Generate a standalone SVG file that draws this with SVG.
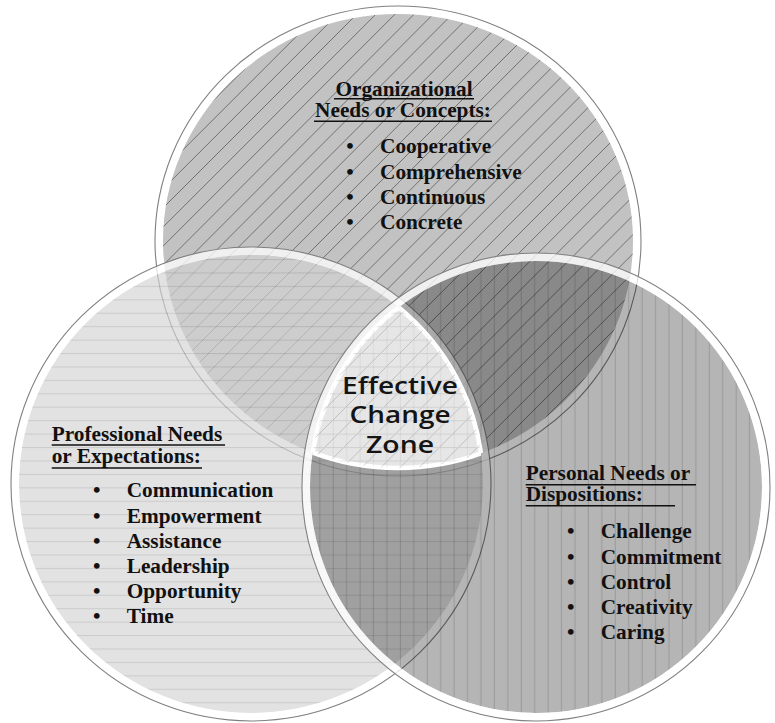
<svg xmlns="http://www.w3.org/2000/svg" width="775" height="723" viewBox="0 0 775 723">
  <style>
    .lbl { font-family: "Liberation Serif", "Times New Roman", serif; font-weight: bold; font-size: 21.3px; fill: #111; }
    .bul { text-anchor: middle; }
    .ul { stroke: #111; stroke-width: 1.6; }
    .zone { font-family: "Open Sans", "Noto Sans", sans-serif; font-weight: 600; font-size: 22.5px; fill: #141414; text-anchor: middle; }
    .band { fill: none; stroke: #fff; stroke-width: 8; stroke-opacity: 0.75; }
    .rim { fill: none; stroke: #808080; stroke-width: 1.1; }
    .edge { fill: none; stroke: #fff; stroke-width: 4.5; }
  </style>
  <defs>
    <!-- filled discs of the three sets -->
    <ellipse id="dTop" cx="398" cy="241" rx="235" ry="227"/>
    <ellipse id="dLeft" cx="251" cy="484" rx="232" ry="229"/>
    <ellipse id="dRight" cx="536" cy="487" rx="226" ry="226"/>
    <clipPath id="cTop"><use href="#dTop"/></clipPath>
    <clipPath id="cLeft"><use href="#dLeft"/></clipPath>
    <clipPath id="cRight"><use href="#dRight"/></clipPath>
    <!-- upward diagonal hatch lines (x + y = const) -->
    <path id="diagLines" fill="none" stroke="#000" stroke-opacity="0.42" stroke-width="1"
      d="M180 0l-700 700M199.1 0l-700 700M218.2 0l-700 700M237.3 0l-700 700M256.4 0l-700 700M275.5 0l-700 700M294.6 0l-700 700M313.7 0l-700 700M332.8 0l-700 700M351.9 0l-700 700M371 0l-700 700M390.1 0l-700 700M409.2 0l-700 700M428.3 0l-700 700M447.4 0l-700 700M466.5 0l-700 700M485.6 0l-700 700M504.7 0l-700 700M523.8 0l-700 700M542.9 0l-700 700M562 0l-700 700M581.1 0l-700 700M600.2 0l-700 700M619.3 0l-700 700M638.4 0l-700 700M657.5 0l-700 700M676.6 0l-700 700M695.7 0l-700 700M714.8 0l-700 700M733.9 0l-700 700M753 0l-700 700M772.1 0l-700 700M791.2 0l-700 700M810.3 0l-700 700M829.4 0l-700 700M848.5 0l-700 700M867.6 0l-700 700M886.7 0l-700 700M905.8 0l-700 700M924.9 0l-700 700M944 0l-700 700M963.1 0l-700 700M982.2 0l-700 700M1001.3 0l-700 700M1020.4 0l-700 700M1039.5 0l-700 700M1058.6 0l-700 700M1077.7 0l-700 700M1096.8 0l-700 700"/>
    <pattern id="pHoriz" patternUnits="userSpaceOnUse" width="13.43" height="13.43">
      <line x1="0" y1="4.4" x2="13.43" y2="4.4" stroke="#b0b0b0" stroke-width="1"/>
    </pattern>
    <pattern id="pVert" patternUnits="userSpaceOnUse" width="13.43" height="13.43">
      <line x1="10.9" y1="0" x2="10.9" y2="13.43" stroke="#000" stroke-opacity="0.15" stroke-width="1"/>
    </pattern>
  </defs>

  <rect width="775" height="723" fill="#fff"/>

  <!-- set: organizational (top) -->
  <g id="set-organizational">
    <ellipse class="band" cx="398" cy="241" rx="239" ry="231"/>
    <ellipse class="rim" cx="398" cy="241" rx="243" ry="235"/>
    <use href="#dTop" fill="#c2c2c2"/>
    <g clip-path="url(#cTop)"><use href="#diagLines"/></g>
  </g>

  <!-- set: professional (left), light translucent layer -->
  <g id="set-professional">
    <g opacity="0.66">
      <use href="#dLeft" fill="#d4d4d4"/>
      <use href="#dLeft" fill="url(#pHoriz)"/>
    </g>
    <ellipse class="band" cx="251" cy="484" rx="236" ry="233"/>
    <ellipse class="rim" cx="251" cy="484" rx="240" ry="237"/>
  </g>

  <!-- set: personal (right), dark translucent layer -->
  <g id="set-personal">
    <use href="#dRight" fill="#000" fill-opacity="0.29"/>
    <use href="#dRight" fill="url(#pVert)"/>
    <ellipse class="band" cx="536" cy="487" rx="230" ry="230"/>
    <ellipse class="rim" cx="536" cy="487" rx="234" ry="234"/>
  </g>

  <!-- central zone: intersection of all three -->
  <g id="effective-change-zone">
    <g clip-path="url(#cTop)"><g clip-path="url(#cLeft)">
      <use href="#dRight" fill="#e7e7e7"/>
    </g></g>
    <!-- white edge along each bounding arc -->
    <g clip-path="url(#cLeft)"><g clip-path="url(#cRight)"><use href="#dTop" class="edge"/></g></g>
    <g clip-path="url(#cTop)"><g clip-path="url(#cRight)"><use href="#dLeft" class="edge"/></g></g>
    <g clip-path="url(#cTop)"><g clip-path="url(#cLeft)"><use href="#dRight" class="edge"/></g></g>
    <!-- faint hatching showing through -->
    <g clip-path="url(#cTop)"><g clip-path="url(#cLeft)"><g clip-path="url(#cRight)" opacity="0.4">
      <use href="#diagLines"/>
      <rect x="0" y="0" width="775" height="723" fill="url(#pHoriz)"/>
      <rect x="0" y="0" width="775" height="723" fill="url(#pVert)"/>
    </g></g></g>
  </g>

  <!-- labels -->
  <g id="label-organizational" class="lbl">
    <text x="404" y="96" text-anchor="middle">Organizational</text>
    <text x="403" y="117" text-anchor="middle">Needs or Concepts:</text>
    <line class="ul" x1="334" y1="98.8" x2="474" y2="98.8"/>
    <line class="ul" x1="314" y1="121.3" x2="492" y2="121.3"/>
    <text class="bul" x="350" y="153.3">•</text><text x="380" y="153.3">Cooperative</text>
    <text class="bul" x="350" y="178.5">•</text><text x="380" y="178.5">Comprehensive</text>
    <text class="bul" x="350" y="203.7">•</text><text x="380" y="203.7">Continuous</text>
    <text class="bul" x="350" y="228.9">•</text><text x="380" y="228.9">Concrete</text>
  </g>

  <g id="label-professional" class="lbl">
    <text x="51.7" y="440.7">Professional Needs</text>
    <text x="51.7" y="463.3">or Expectations:</text>
    <line class="ul" x1="51.7" y1="445" x2="225" y2="445"/>
    <line class="ul" x1="51.7" y1="468" x2="202" y2="468"/>
    <text class="bul" x="96.7" y="497.3">•</text><text x="126.7" y="497.3">Communication</text>
    <text class="bul" x="96.7" y="522.5">•</text><text x="126.7" y="522.5">Empowerment</text>
    <text class="bul" x="96.7" y="547.7">•</text><text x="126.7" y="547.7">Assistance</text>
    <text class="bul" x="96.7" y="572.9">•</text><text x="126.7" y="572.9">Leadership</text>
    <text class="bul" x="96.7" y="598.1">•</text><text x="126.7" y="598.1">Opportunity</text>
    <text class="bul" x="96.7" y="623.3">•</text><text x="126.7" y="623.3">Time</text>
  </g>

  <g id="label-personal" class="lbl">
    <text x="525.7" y="480">Personal Needs or</text>
    <text x="525.7" y="501">Dispositions:</text>
    <line class="ul" x1="525.7" y1="484.8" x2="696" y2="484.8"/>
    <line class="ul" x1="525.7" y1="505.8" x2="675" y2="505.8"/>
    <text class="bul" x="570.7" y="538.3">•</text><text x="600.7" y="538.3">Challenge</text>
    <text class="bul" x="570.7" y="563.5">•</text><text x="600.7" y="563.5">Commitment</text>
    <text class="bul" x="570.7" y="588.7">•</text><text x="600.7" y="588.7">Control</text>
    <text class="bul" x="570.7" y="613.9">•</text><text x="600.7" y="613.9">Creativity</text>
    <text class="bul" x="570.7" y="639.1">•</text><text x="600.7" y="639.1">Caring</text>
  </g>

  <g id="label-zone">
    <text class="zone" x="400" y="394" textLength="116" lengthAdjust="spacingAndGlyphs">Effective</text>
    <text class="zone" x="400" y="423" textLength="101" lengthAdjust="spacingAndGlyphs">Change</text>
    <text class="zone" x="400" y="452.5" textLength="68" lengthAdjust="spacingAndGlyphs">Zone</text>
  </g>
</svg>
